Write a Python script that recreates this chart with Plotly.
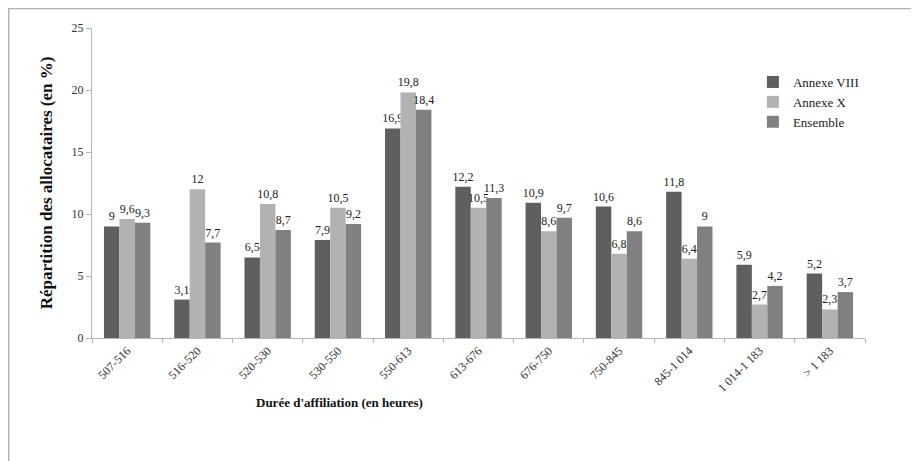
import plotly.graph_objects as go

# Catégories (durée d'affiliation) et répartition en %
categories = ["507-516", "516-520", "520-530", "530-550", "550-613", "613-676",
              "676-750", "750-845", "845-1 014", "1 014-1 183", "> 1 183"]
annexe_viii = [9, 3.1, 6.5, 7.9, 16.9, 12.2, 10.9, 10.6, 11.8, 5.9, 5.2]
annexe_x = [9.6, 12, 10.8, 10.5, 19.8, 10.5, 8.6, 6.8, 6.4, 2.7, 2.3]
ensemble = [9.3, 7.7, 8.7, 9.2, 18.4, 11.3, 9.7, 8.6, 9, 4.2, 3.7]
y_ticks = [0, 5, 10, 15, 20, 25]

series = [
    ("Annexe VIII", annexe_viii, "#5f5f5f"),
    ("Annexe X", annexe_x, "#b2b2b2"),
    ("Ensemble", ensemble, "#808080"),
]

FONT = "Liberation Serif, serif"

# page body has an 8px margin, so the figure is drawn 8px smaller
W, H = 911, 453
L, T, PW, PH = 84, 20, 773, 310


def fmt(v):
    # virgule décimale
    return str(v).replace(".", ",")


fig = go.Figure()
for name, vals, color in series:
    fig.add_trace(go.Bar(
        x=categories, y=vals, name=name,
        marker=dict(color=color, line=dict(width=0)),
        text=[fmt(v) for v in vals], textposition="outside",
        constraintext="none",
        textfont=dict(family=FONT, size=12, color="#222"),
        cliponaxis=False,
    ))

fig.update_layout(
    width=W, height=H,
    margin=dict(l=L, r=W - L - PW, t=T, b=H - T - PH),
    paper_bgcolor="white", plot_bgcolor="white",
    barmode="group", bargap=0.34, bargroupgap=0,
    font=dict(family=FONT, size=12, color="#333"),
    showlegend=True,
    legend=dict(x=0.855, y=1.0 - (59 - T) / PH, xanchor="left", yanchor="top",
                font=dict(family=FONT, size=13, color="#222"),
                bgcolor="rgba(0,0,0,0)", itemwidth=30, tracegroupgap=0),
    xaxis=dict(
        type="category", tickangle=-45, showgrid=False,
        showline=True, linecolor="#b5b5b5", linewidth=1,
        ticks="outside", tickson="boundaries", ticklen=4, tickcolor="#b5b5b5",
        tickfont=dict(family=FONT, size=12, color="#333"),
    ),
    yaxis=dict(
        range=[0, 25], tickvals=y_ticks, showgrid=False, zeroline=False,
        showline=True, linecolor="#b5b5b5", linewidth=1,
        ticks="outside", ticklen=5, tickcolor="#b5b5b5",
        tickfont=dict(family=FONT, size=12, color="#333"),
        title=dict(text="<b>Répartition des allocataires (en %)</b>",
                   font=dict(family=FONT, size=17, color="#111"), standoff=14),
    ),
    annotations=[dict(
        text="<b>Durée d'affiliation (en heures)</b>",
        x=(331 - L) / PW, y=-(394 - T - PH) / PH, xref="paper", yref="paper",
        xanchor="center", yanchor="middle", showarrow=False,
        font=dict(family=FONT, size=13, color="#111"),
    )],
    shapes=[
        dict(type="line", xref="paper", yref="paper",
             x0=-L / PW, x1=(W - L) / PW, y0=(T + PH - 0.5) / PH, y1=(T + PH - 0.5) / PH,
             line=dict(color="#b0b0b0", width=1.5)),
        dict(type="line", xref="paper", yref="paper",
             x0=(0.7 - L) / PW, x1=(0.7 - L) / PW, y0=(T + PH) / PH, y1=-(H - T - PH) / PH,
             line=dict(color="#b0b0b0", width=1.5)),
    ],
)

fig.write_html("out.html")
